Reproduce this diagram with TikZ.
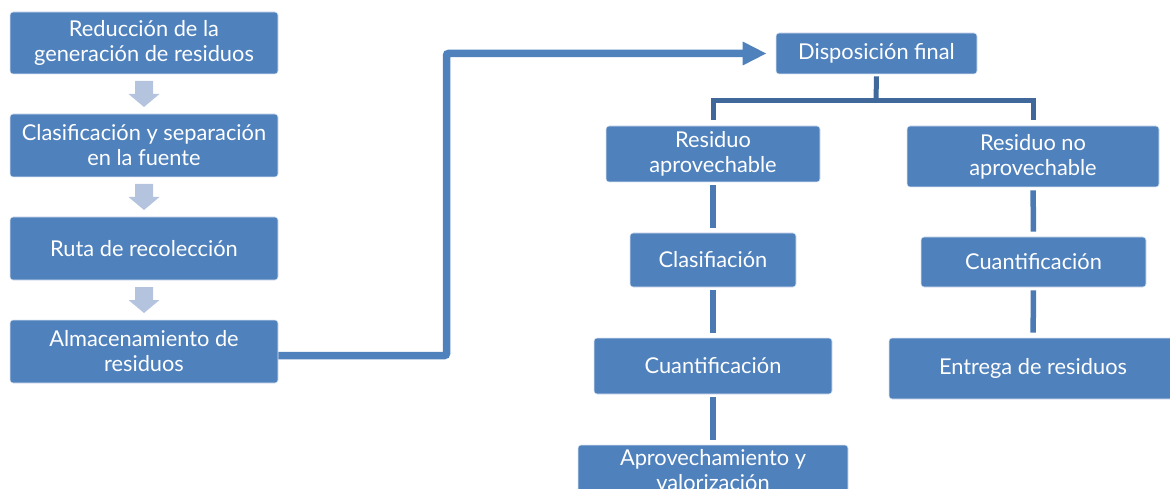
\documentclass[tikz,border=0pt]{standalone}
\usepackage{fontspec}
\setmainfont{Lato}
\usetikzlibrary{arrows.meta,calc}
\definecolor{boxblue}{HTML}{4F81BD}
\definecolor{boxedge}{HTML}{DCE6F2}
\definecolor{lightarr}{HTML}{B4C4DF}
\definecolor{treedark}{HTML}{41689A}
\definecolor{stemblue}{HTML}{4A79B3}
\tikzset{
  box/.style={rectangle, rounded corners=3pt, fill=boxblue, draw=boxedge, line width=0.6pt,
    text=white, align=center, inner sep=0pt, font=\fontsize{21.8}{25}\selectfont},
  flowline/.style={draw=boxblue, line width=7.5pt, rounded corners=2pt,
    -{Triangle[length=24pt,width=22pt]}},
  treeline/.style={draw=treedark, line width=5pt},
  stemline/.style={draw=stemblue, line width=5.5pt, shorten <=3pt, shorten >=5pt},
  downarrow/.pic={\fill[lightarr] (-9,-13) -- (9,-13) -- (9,0) -- (15.5,0) -- (0,13) -- (-15.5,0) -- (-9,0) -- cycle;}
}
\begin{document}
\begin{tikzpicture}[x=1pt,y=-1pt]
\useasboundingbox (0,0) rectangle (1170,489);
\clip (0,0) rectangle (1170,489);
% left column
\node[box, minimum width=268pt, minimum height=62pt] (b1) at (144,43) {Reducción de la\\generación de residuos};
\node[box, minimum width=268pt, minimum height=63pt] (b2) at (144,145.5) {Clasificación y separación\\en la fuente};
\node[box, minimum width=268pt, minimum height=63pt] (b3) at (144,248.5) {Ruta de recolección};
\node[box, minimum width=268pt, minimum height=63pt] (b4) at (144,351.5) {Almacenamiento de\\residuos};
\coordinate (m1) at ($(b1.south)!.5!(b2.north)$);
\coordinate (m2) at ($(b2.south)!.5!(b3.north)$);
\coordinate (m3) at ($(b3.south)!.5!(b4.north)$);
\pic at (m1) {downarrow};
\pic at (m2) {downarrow};
\pic at (m3) {downarrow};
% right tree
\node[box, minimum width=201pt, minimum height=41pt] (disp) at (876.5,53.5) {Disposición final};
\node[box, minimum width=214pt, minimum height=56pt] (ra) at (713,154) {Residuo\\aprovechable};
\node[box, minimum width=252pt, minimum height=61pt] (rna) at (1033,156.5) {Residuo no\\aprovechable};
\node[box, minimum width=166pt, minimum height=54pt] (cl) at (713,260) {Clasifiación};
\node[box, minimum width=238pt, minimum height=56pt] (cuL) at (713,366) {Cuantificación};
\node[box, minimum width=270pt, minimum height=50pt] (apr) at (713,470) {Aprovechamiento y\\valorización};
\node[box, minimum width=225pt, minimum height=50pt] (cuR) at (1033.5,262) {Cuantificación};
\node[box, minimum width=288pt, minimum height=61pt] (ent) at (1033,368.5) {Entrega de residuos};
% flow connector
\coordinate (bend) at (446.5,53.5);
\draw[flowline] ([yshift=-4pt]b4.east) -| (bend) -- ([xshift=-9pt]disp.west);
% tree connectors
\coordinate (hb) at (876,101);
\draw[treeline] ([yshift=-2pt]disp.south) -- (hb);
\draw[treeline] ([yshift=6pt]ra.north) |- (hb) -| ([yshift=6pt]rna.north);
\draw[stemline] (ra) -- (cl);
\draw[stemline] (cl) -- (cuL);
\draw[stemline] (cuL) -- (apr);
\draw[stemline] (rna) -- (cuR);
\draw[stemline] (cuR) -- (ent);
\end{tikzpicture}
\end{document}
